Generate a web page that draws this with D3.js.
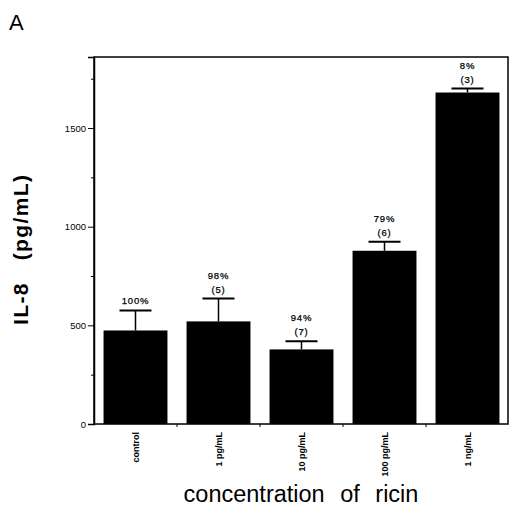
<!DOCTYPE html>
<html><head><meta charset="utf-8">
<script src="https://cdn.jsdelivr.net/npm/d3@7"></script>
<style>body{margin:0;background:#fff}svg{display:block}</style>
</head><body>
<script>
const categories = ["control", "1 pg/mL", "10 pg/mL", "100 pg/mL", "1 ng/mL"];
const means = [474, 520, 378, 878, 1680];
const errTops = [575, 636, 419, 924, 1700];
const pctLabels = ["100%", "98%", "94%", "79%", "8%"];
const nLabels = ["", "(5)", "(7)", "(6)", "(3)"];
const yTicks = [0, 500, 1000, 1500];
const yMinorTicks = [250, 750, 1250, 1750];

(function () {
const W = 509, H = 506;
const FONT = "'Liberation Sans', Arial, Helvetica, sans-serif";
const mLeft = 94, mRight = 508, mTop = 57, mBottom = 424;
const svg = d3.select("body").append("svg").attr("width", W).attr("height", H);

const x = d3.scaleBand().domain(categories).range([mLeft, mRight + 1]).paddingInner(0.23).paddingOuter(0.115);
const y = d3.scaleLinear().domain([0, 1860]).range([mBottom, mTop]);

// frame
svg.append("rect").attr("x", mLeft).attr("y", mTop).attr("width", mRight - mLeft).attr("height", mBottom - mTop)
  .attr("fill", "none").attr("stroke", "#000").attr("stroke-width", 1.5);

// y axis
const yAxis = svg.append("g").attr("transform", `translate(${mLeft},0)`)
  .call(d3.axisLeft(y).tickValues(yTicks).tickSize(6).tickFormat(d3.format("d")));
yAxis.select(".domain").attr("stroke-width", 1.5);
yAxis.selectAll("text").attr("font-family", FONT).attr("font-size", 9.5).attr("dx", 1);
svg.append("g").attr("transform", `translate(${mLeft},0)`)
  .call(d3.axisLeft(y).tickValues(yMinorTicks).tickSize(3).tickFormat(""))
  .select(".domain").remove();

// bars
svg.selectAll("rect.bar").data(categories).join("rect").attr("class", "bar")
  .attr("x", d => x(d)).attr("width", x.bandwidth())
  .attr("y", (d, i) => y(means[i])).attr("height", (d, i) => y(0) - y(means[i]))
  .attr("fill", "#000");

// error bars
const capW = 32;
categories.forEach((c, i) => {
  const cx = x(c) + x.bandwidth() / 2;
  svg.append("line").attr("x1", cx).attr("x2", cx).attr("y1", y(means[i])).attr("y2", y(errTops[i]))
    .attr("stroke", "#000").attr("stroke-width", 1.5);
  svg.append("line").attr("x1", cx - capW / 2).attr("x2", cx + capW / 2).attr("y1", y(errTops[i])).attr("y2", y(errTops[i]))
    .attr("stroke", "#000").attr("stroke-width", 2);
  const ty = y(errTops[i]);
  const lab = (txt, yy) => svg.append("text").attr("x", cx).attr("y", yy).attr("text-anchor", "middle")
      .attr("font-family", FONT).attr("font-size", 9.5).attr("letter-spacing", 0.8)
      .attr("stroke", "#000").attr("stroke-width", 0.25).text(txt);
  if (nLabels[i]) {
    lab(nLabels[i], ty - 6);
    lab(pctLabels[i], ty - 20);
  } else {
    lab(pctLabels[i], ty - 7);
  }
});

// x axis
const xAxis = svg.append("g").attr("transform", `translate(0,${mBottom})`)
  .call(d3.axisBottom(x).tickSize(0).tickPadding(0));
xAxis.select(".domain").remove();
xAxis.selectAll("text")
  .attr("transform", "rotate(-90)").attr("text-anchor", "end")
  .attr("x", -8).attr("y", 0).attr("dy", "0.35em")
  .attr("font-family", FONT).attr("font-size", 9).attr("font-weight", "bold");
// between-bar ticks
const boundaries = categories.slice(1).map(c => x(c) - x.step() * x.paddingInner() / 2);
svg.selectAll("line.sep").data(boundaries).join("line").attr("class", "sep")
  .attr("x1", d => d).attr("x2", d => d).attr("y1", mBottom).attr("y2", mBottom + 3)
  .attr("stroke", "#000").attr("stroke-width", 1);

// titles
svg.append("text").attr("x", 301).attr("y", 502).attr("text-anchor", "middle")
  .attr("font-family", FONT).attr("font-size", 23.5)
  .attr("word-spacing", 9)
  .text("concentration of ricin");
svg.append("text").attr("transform", "translate(28,250) rotate(-90)").attr("text-anchor", "middle")
  .attr("font-family", FONT).attr("font-size", 21).attr("font-weight", "bold")
  .attr("textLength", 150).attr("lengthAdjust", "spacing")
  .style("white-space", "pre").text("IL-8   (pg/mL)");
svg.append("text").attr("x", 9).attr("y", 30)
  .attr("font-family", FONT).attr("font-size", 22).text("A");
})();
</script>
</body></html>
